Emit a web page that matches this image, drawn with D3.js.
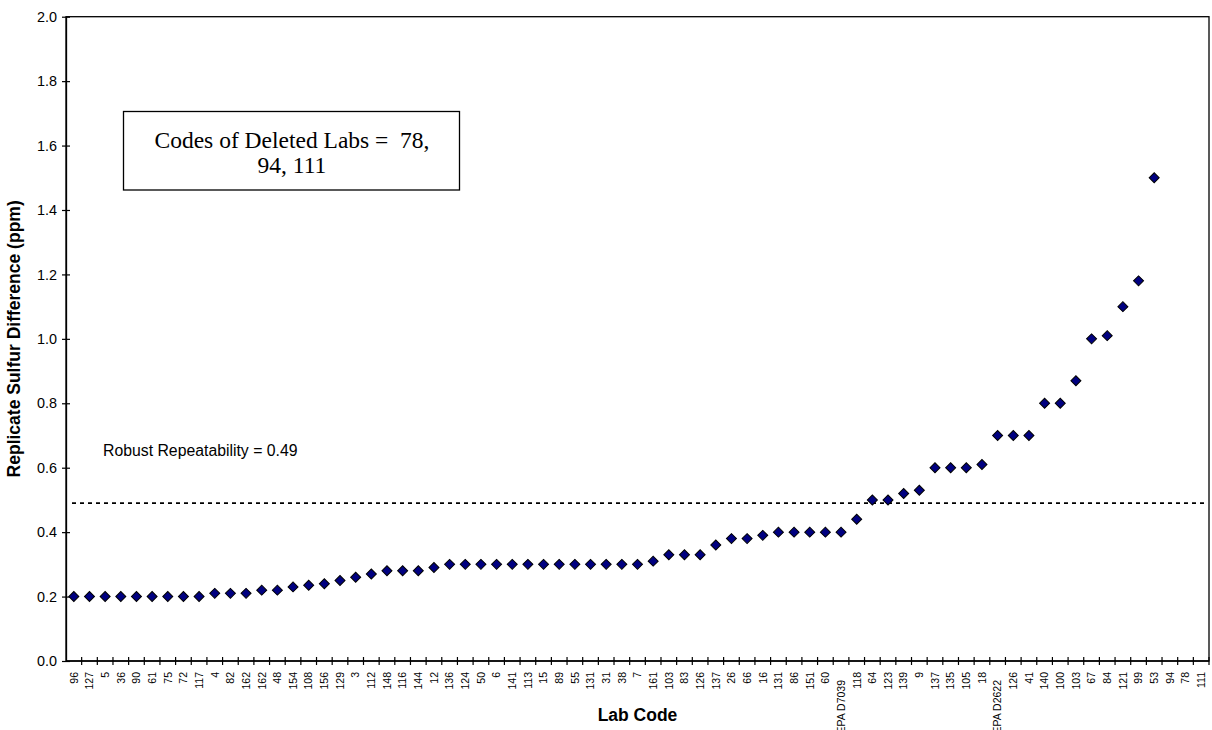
<!DOCTYPE html>
<html>
<head>
<meta charset="utf-8">
<script src="https://cdn.jsdelivr.net/npm/d3@7"></script>
<style>
  html, body { margin: 0; padding: 0; background: #fff; }
  svg { display: block; }
</style>
</head>
<body>
<svg id="chart" width="1212" height="730"></svg>
<script>
const labCodes = ["96","127","5","36","90","61","75","72","117","4","82","162","162","48","154","108","156","129","3","112","148","116","144","12","136","124","50","6","141","113","15","89","55","131","31","38","7","161","103","83","126","137","26","66","16","131","86","151","60","EPA D7039","118","64","123","139","9","137","135","105","18","EPA D2622","126","41","140","100","103","67","84","121","99","53","94","78","111"];
const differences = [0.20,0.20,0.20,0.20,0.20,0.20,0.20,0.20,0.20,0.21,0.21,0.21,0.22,0.22,0.23,0.235,0.24,0.25,0.26,0.27,0.28,0.28,0.28,0.29,0.30,0.30,0.30,0.30,0.30,0.30,0.30,0.30,0.30,0.30,0.30,0.30,0.30,0.31,0.33,0.33,0.33,0.36,0.38,0.38,0.39,0.40,0.40,0.40,0.40,0.40,0.44,0.50,0.50,0.52,0.53,0.60,0.60,0.60,0.61,0.70,0.70,0.70,0.80,0.80,0.87,1.00,1.01,1.10,1.18,1.50,null,null,null];
const yTicks = [0,0.2,0.4,0.6,0.8,1.0,1.2,1.4,1.6,1.8,2.0];
const repeatability = 0.49;
const deletedNote = ["Codes of Deleted Labs =  78,", "94, 111"];

const svg = d3.select("#chart");
const m = {left: 66, top: 16.7, right: 1209, bottom: 661};
const idx = labCodes.map((d, i) => i);

const x = d3.scaleBand().domain(idx).range([m.left, m.right]).padding(0);
const y = d3.scaleLinear().domain([0, 2]).range([m.bottom, m.top]);
const sans = "Arial, 'Liberation Sans', sans-serif";

// frame (top and right)
svg.append("rect")
  .attr("x", m.left).attr("y", m.top)
  .attr("width", m.right - m.left).attr("height", m.bottom - m.top)
  .attr("fill", "none").attr("stroke", "#000").attr("stroke-width", 1.3);

// Y axis
const yAxis = d3.axisLeft(y).tickValues(yTicks).tickFormat(d3.format(".1f")).tickSizeInner(4).tickSizeOuter(0).tickPadding(6);
const gy = svg.append("g").attr("transform", `translate(${m.left},0)`).call(yAxis);
gy.select(".domain").attr("stroke-width", 1.3);
gy.selectAll(".tick line").attr("x2", 4).attr("x1", -4).attr("stroke-width", 1.2);
gy.selectAll(".tick text").attr("font-family", sans).attr("font-size", 14.4).attr("fill", "#000").attr("x", -9);

// X axis with ticks at band boundaries
const gx = svg.append("g").attr("transform", `translate(0,${m.bottom})`);
gx.append("line").attr("x1", m.left).attr("x2", m.right).attr("stroke", "#000").attr("stroke-width", 1.3);
const boundaries = idx.slice(1).map(i => x(i)).concat([m.right]);
gx.selectAll("line.tk").data(boundaries).join("line").attr("class", "tk")
  .attr("x1", d => d).attr("x2", d => d).attr("y1", -4).attr("y2", 4)
  .attr("stroke", "#000").attr("stroke-width", 1.2);
gx.selectAll("text.lbl").data(idx).join("text").attr("class", "lbl")
  .attr("transform", i => `translate(${x(i) + x.bandwidth() / 2 + 3.8},${labCodes[i].length > 4 ? 19 : 11}) rotate(-90)`)
  .attr("text-anchor", "end")
  .attr("font-family", sans)
  .attr("font-size", 10.5)
  .attr("fill", "#000")
  .text(i => labCodes[i]);

// Repeatability line
svg.append("line")
  .attr("x1", m.left + 6).attr("x2", m.right - 4)
  .attr("y1", y(repeatability)).attr("y2", y(repeatability))
  .attr("stroke", "#000").attr("stroke-width", 1.6).attr("stroke-dasharray", "4,4");

svg.append("text")
  .attr("x", 103).attr("y", 455.5)
  .attr("font-family", sans)
  .attr("font-size", 15.8).attr("fill", "#000")
  .text("Robust Repeatability = " + repeatability.toFixed(2));

// Points
const sym = d3.symbol().type(d3.symbolSquare).size(50);
svg.append("g").selectAll("path").data(idx.filter(i => differences[i] != null)).join("path")
  .attr("d", sym)
  .attr("transform", i => `translate(${x(i) + x.bandwidth() / 2},${y(differences[i])}) rotate(45)`)
  .attr("fill", "#000080").attr("stroke", "#000").attr("stroke-width", 1);

// Deleted labs box
svg.append("rect").attr("x", 123.5).attr("y", 111.5).attr("width", 336).attr("height", 78.5)
  .attr("fill", "#fff").attr("stroke", "#000").attr("stroke-width", 1.3);
svg.append("g").selectAll("text").data(deletedNote).join("text")
  .attr("x", 292).attr("y", (d, i) => 148 + i * 25)
  .attr("text-anchor", "middle")
  .attr("font-family", "'Times New Roman', 'Liberation Serif', serif")
  .attr("font-size", 23.5).attr("fill", "#000")
  .attr("xml:space", "preserve").style("white-space", "pre")
  .text(d => d);

// Axis titles (centered on plot area)
svg.append("text")
  .attr("x", (m.left + m.right) / 2).attr("y", 721).attr("text-anchor", "middle")
  .attr("font-family", sans)
  .attr("font-size", 17.5).attr("font-weight", "bold").attr("fill", "#000")
  .text("Lab Code");
svg.append("text")
  .attr("transform", `translate(20,${(m.top + m.bottom) / 2}) rotate(-90)`)
  .attr("text-anchor", "middle")
  .attr("font-family", sans)
  .attr("font-size", 17.5).attr("font-weight", "bold").attr("fill", "#000")
  .text("Replicate Sulfur Difference (ppm)");
</script>
</body>
</html>
